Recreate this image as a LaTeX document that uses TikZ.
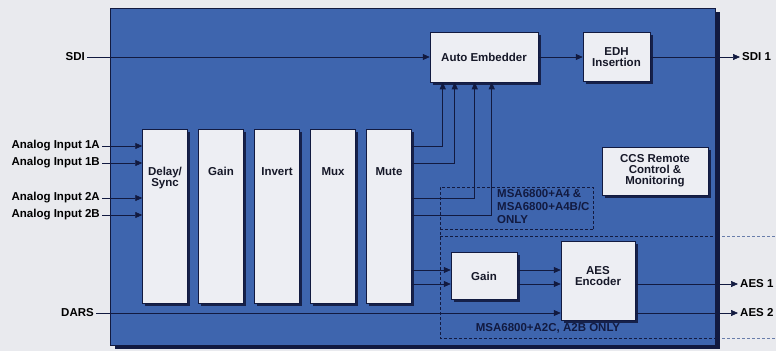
\documentclass[tikz,border=0pt]{standalone}
\usepackage{fontspec}
\setmainfont{Liberation Sans}
\usepackage{tikz}
\usetikzlibrary{arrows.meta, positioning, shadows}
\definecolor{paper}{RGB}{233,234,238}
\definecolor{boardblue}{RGB}{62,101,174}
\definecolor{boxfill}{RGB}{237,238,243}
\definecolor{navy}{RGB}{18,26,64}
\definecolor{inktext}{RGB}{22,24,40}
\definecolor{zoneout}{RGB}{105,125,170}
\newcommand{\lbl}{\fontsize{11.5}{11}\selectfont\bfseries}
\newcommand{\notefont}{\fontsize{11.5}{13}\selectfont\bfseries}
\tikzset{
    boardbox/.style={rectangle, fill=boardblue, draw=navy, line width=0.6pt, drop shadow={shadow xshift=5pt, shadow yshift=-4pt, fill=navy, opacity=1}},
    block/.style={rectangle, draw=navy, fill=boxfill, line width=0.5pt, text=inktext, font=\lbl, align=center, inner sep=2pt, drop shadow={shadow xshift=2.5pt, shadow yshift=-2.5pt, fill=navy, opacity=0.9}},
    stage/.style={block, minimum width=45pt, minimum height=174pt, label={[anchor=north, yshift=-35pt, align=center, font=\lbl, text=inktext]north:#1}},
    port/.style={font=\lbl, text=black, inner sep=2pt},
    note/.style={font=\notefont, text=navy, align=left, inner sep=0pt},
    zone/.style={draw=navy, dash pattern=on 3pt off 2pt, line width=0.6pt},
    arrow/.style={draw=navy, line width=0.7pt, -{Triangle[length=7pt, width=6pt]}}
}

\begin{document}
\begin{tikzpicture}[x=1pt, y=-1pt]
    % Canvas and board
    \fill[paper] (0,0) rectangle (776,351);
    \useasboundingbox (0,0) rectangle (776,351);
    \node[boardbox, minimum width=605pt, minimum height=337pt] (board) at (412.5,176.5) {};

    % Place nodes
    \node[block, minimum width=108pt, minimum height=50pt] (embed) at (484,57) {Auto Embedder};
    \node[block, minimum width=67pt, minimum height=49pt] (edh) at (616.5,57) {EDH\\Insertion};
    \node[block, minimum width=106pt, minimum height=48pt] (ccs) at (655,171) {CCS Remote\\Control \&\\Monitoring};
    \node[stage={Delay/\\Sync}] (delay) at (165,216) {};
    \node[stage=Gain, right=10.5pt of delay] (gain) {};
    \node[stage=Invert, right=10.5pt of gain] (invert) {};
    \node[stage=Mux, right=10.5pt of invert] (mux) {};
    \node[stage=Mute, right=10.5pt of mux] (mute) {};
    \node[block, minimum width=66pt, minimum height=47pt] (level) at (484,276) {Gain};
    \node[block, minimum width=74pt, minimum height=79pt, text depth=10pt] (aes) at (598,280.5) {AES\\Encoder};

    % Inputs and outputs
    \node[port, anchor=east] (sdi) at (87,57) {SDI};
    \node[port, anchor=east] (in1a) at (102,146) {Analog Input 1A};
    \node[port, anchor=east] (in1b) at (102,163) {Analog Input 1B};
    \node[port, anchor=east] (in2a) at (102,198) {Analog Input 2A};
    \node[port, anchor=east] (in2b) at (102,215) {Analog Input 2B};
    \node[port, anchor=east] (dars) at (96,313) {DARS};
    \node[port, anchor=west] (sdiout) at (740,57) {SDI 1};
    \node[port, anchor=west] (aes1) at (738,284) {AES 1};
    \node[port, anchor=west] (aes2) at (738,313) {AES 2};

    % Option zones
    \draw[zone] (593,229) -- (593,187) -- (440,187) -- (440,338) -- (717,338);
    \draw[zone] (440,229) -- (593,229);
    \draw[zone] (440,236) -- (717,236);
    \draw[zone, draw=zoneout] (722,236) -- (776,236);
    \draw[zone, draw=zoneout] (722,338) -- (776,338);
    \node[note, anchor=north west] (optfour) at (497,189) {MSA6800+A4 \&\\MSA6800+A4B/C\\ONLY};
    \node[note] (opttwo) at (548,328) {MSA6800+A2C, A2B ONLY};

    % Draw edges
    \draw[arrow] (sdi) -- (embed);
    \draw[arrow] (embed) -- (edh);
    \draw[arrow] (edh) -- (sdiout);
    \draw[arrow] (in1a) -- (in1a -| delay.west);
    \draw[arrow] (in1b) -- (in1b -| delay.west);
    \draw[arrow] (in2a) -- (in2a -| delay.west);
    \draw[arrow] (in2b) -- (in2b -| delay.west);
    \draw[arrow] (mute.east |- in1a) -| ([xshift=13pt]embed.south west);
    \draw[arrow] (mute.east |- in1b) -| ([xshift=25pt]embed.south west);
    \draw[arrow] (mute.east |- in2a) -| ([xshift=45pt]embed.south west);
    \draw[arrow] (mute.east |- in2b) -| ([xshift=62pt]embed.south west);
    \coordinate (lvlin) at ([yshift=6pt]level.west);
    \coordinate (lvlinb) at ([yshift=-8pt]level.west);
    \draw[arrow] (mute.east |- lvlin) -- (lvlin);
    \draw[arrow] (mute.east |- lvlinb) -- (lvlinb);
    \draw[arrow] (lvlin -| level.east) -- (lvlin -| aes.west);
    \draw[arrow] (lvlinb -| level.east) -- (lvlinb -| aes.west);
    \draw[arrow] (dars) -- (dars -| aes.west);
    \draw[arrow] (aes.east |- aes1) -- (aes1);
    \draw[arrow] (aes.east |- aes2) -- (aes2);
\end{tikzpicture}
\end{document}
